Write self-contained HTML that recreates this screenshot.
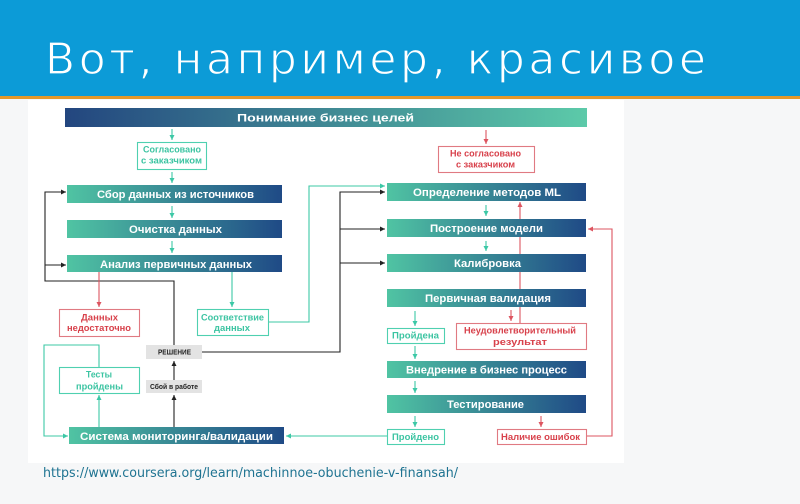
<!DOCTYPE html>
<html><head><meta charset="utf-8"><style>
html,body{margin:0;padding:0;background:#f6f7f8;}
svg{display:block;}
.bt{font-family:"Liberation Sans","DejaVu Sans",sans-serif;font-weight:bold;fill:#fff;font-size:11px;}
.tt{font-family:"Liberation Sans","DejaVu Sans",sans-serif;font-weight:bold;fill:#3cc4a2;font-size:9px;}
.rt{font-family:"Liberation Sans","DejaVu Sans",sans-serif;font-weight:bold;fill:#d8414b;font-size:9px;}
.gt{font-family:"Liberation Sans","DejaVu Sans",sans-serif;font-weight:bold;fill:#222;font-size:7px;}
</style></head><body>
<svg width="800" height="504" viewBox="0 0 800 504" xmlns="http://www.w3.org/2000/svg">
<defs>
<linearGradient id="gTop" x1="0" x2="1" y1="0" y2="0"><stop offset="0" stop-color="#23467f"/><stop offset="1" stop-color="#5ccaa9"/></linearGradient>
<linearGradient id="gBar" x1="0" x2="1" y1="0" y2="0"><stop offset="0" stop-color="#50c4a3"/><stop offset="1" stop-color="#1f4a86"/></linearGradient>
<marker id="ak" viewBox="0 0 10 10" refX="10" refY="5" markerWidth="5" markerHeight="5" markerUnits="userSpaceOnUse" orient="auto"><path d="M0,0 L10,5 L0,10 z" fill="#222"/></marker>
<marker id="at" viewBox="0 0 10 10" refX="10" refY="5" markerWidth="5" markerHeight="5" markerUnits="userSpaceOnUse" orient="auto"><path d="M0,0 L10,5 L0,10 z" fill="#3cc8a6"/></marker>
<marker id="ar" viewBox="0 0 10 10" refX="10" refY="5" markerWidth="5" markerHeight="5" markerUnits="userSpaceOnUse" orient="auto"><path d="M0,0 L10,5 L0,10 z" fill="#dd5560"/></marker>
</defs>

<!-- background -->
<rect x="0" y="0" width="800" height="504" fill="#f6f7f8"/>
<rect x="0" y="0" width="800" height="96" fill="#0c9bd7"/>
<rect x="0" y="96" width="800" height="3" fill="#e4982a"/>
<text x="45" y="74" textLength="661" lengthAdjust="spacing" font-family="DejaVu Sans, Liberation Sans, sans-serif" font-size="44" fill="#ffffff" stroke="#0c9bd7" stroke-width="1.2">Вот, например, красивое</text>

<rect x="28" y="100" width="596" height="363" fill="#ffffff"/>

<!-- connectors (behind) -->
<g fill="none" stroke-width="1.1">
  <line x1="172" y1="129" x2="172" y2="140" stroke="#3cc8a6" marker-end="url(#at)"/>
  <line x1="172" y1="172" x2="172" y2="183" stroke="#3cc8a6" marker-end="url(#at)"/>
  <line x1="172" y1="206" x2="172" y2="218" stroke="#3cc8a6" marker-end="url(#at)"/>
  <line x1="172" y1="241" x2="172" y2="253" stroke="#3cc8a6" marker-end="url(#at)"/>
  <line x1="486" y1="130" x2="486" y2="144" stroke="#dd5560" marker-end="url(#ar)"/>
  <polyline points="174,345 174,281 45,281 45,192 66,192" stroke="#222" marker-end="url(#ak)"/>
  <line x1="45" y1="265" x2="66" y2="265" stroke="#222" marker-end="url(#ak)"/>
  <line x1="99" y1="272" x2="99" y2="307" stroke="#dd5560" marker-end="url(#ar)"/>
  <line x1="232" y1="272" x2="232" y2="307" stroke="#3cc8a6" marker-end="url(#at)"/>
  <polyline points="268,322 309,322 309,186 385,186" stroke="#3cc8a6" marker-end="url(#at)"/>
  <polyline points="202,352 340,352 340,192 385,192" stroke="#222" marker-end="url(#ak)"/>
  <line x1="340" y1="229" x2="385" y2="229" stroke="#222" marker-end="url(#ak)"/>
  <line x1="340" y1="263" x2="385" y2="263" stroke="#222" marker-end="url(#ak)"/>
  <line x1="486" y1="205" x2="486" y2="216" stroke="#3cc8a6" marker-end="url(#at)"/>
  <line x1="486" y1="241" x2="486" y2="251" stroke="#3cc8a6" marker-end="url(#at)"/>
  <line x1="520" y1="323" x2="520" y2="202" stroke="#dd5560" marker-end="url(#ar)"/>
  <line x1="415" y1="311" x2="415" y2="326" stroke="#3cc8a6" marker-end="url(#at)"/>
  <line x1="511" y1="310" x2="511" y2="321" stroke="#dd5560" marker-end="url(#ar)"/>
  <line x1="415" y1="346" x2="415" y2="359" stroke="#3cc8a6" marker-end="url(#at)"/>
  <line x1="415" y1="381" x2="415" y2="393" stroke="#3cc8a6" marker-end="url(#at)"/>
  <line x1="415" y1="416" x2="415" y2="427" stroke="#3cc8a6" marker-end="url(#at)"/>
  <line x1="541" y1="416" x2="541" y2="427" stroke="#dd5560" marker-end="url(#ar)"/>
  <polyline points="586,436 612,436 612,229 588,229" stroke="#dd5560" marker-end="url(#ar)"/>
  <line x1="387" y1="436" x2="286" y2="436" stroke="#3cc8a6" marker-end="url(#at)"/>
  <line x1="99" y1="427" x2="99" y2="395" stroke="#3cc8a6" marker-end="url(#at)"/>
  <polyline points="99,367 99,345 44,345 44,436 68,436" stroke="#3cc8a6" marker-end="url(#at)"/>
  <line x1="174" y1="427" x2="174" y2="395" stroke="#222" marker-end="url(#ak)"/>
  <line x1="174" y1="380" x2="174" y2="361" stroke="#222" marker-end="url(#ak)"/>
</g>

<!-- bars -->
<rect x="65" y="108" width="522" height="19" fill="url(#gTop)"/>
<text class="bt" x="237" y="121.5" font-size="12" textLength="177" lengthAdjust="spacingAndGlyphs">Понимание бизнес целей</text>

<rect x="67" y="185" width="215" height="18" fill="url(#gBar)"/>
<text class="bt" x="97" y="198" textLength="157" lengthAdjust="spacingAndGlyphs">Сбор данных из источников</text>
<rect x="67" y="220" width="215" height="18" fill="url(#gBar)"/>
<text class="bt" x="129" y="233" textLength="93" lengthAdjust="spacingAndGlyphs">Очистка данных</text>
<rect x="67" y="255" width="215" height="17" fill="url(#gBar)"/>
<text class="bt" x="100" y="268" textLength="152" lengthAdjust="spacingAndGlyphs">Анализ первичных данных</text>

<rect x="387" y="183" width="199" height="18" fill="url(#gBar)"/>
<text class="bt" x="413" y="196" textLength="148" lengthAdjust="spacingAndGlyphs">Определение методов ML</text>
<rect x="387" y="219" width="199" height="18" fill="url(#gBar)"/>
<text class="bt" x="430" y="232" textLength="113" lengthAdjust="spacingAndGlyphs">Построение модели</text>
<rect x="387" y="254" width="199" height="18" fill="url(#gBar)"/>
<text class="bt" x="454" y="267" textLength="67" lengthAdjust="spacingAndGlyphs">Калибровка</text>
<rect x="387" y="289" width="199" height="18" fill="url(#gBar)"/>
<text class="bt" x="425" y="302" textLength="126" lengthAdjust="spacingAndGlyphs">Первичная валидация</text>
<rect x="387" y="361" width="199" height="17" fill="url(#gBar)"/>
<text class="bt" x="406" y="373.5" textLength="161" lengthAdjust="spacingAndGlyphs">Внедрение в бизнес процесс</text>
<rect x="387" y="395" width="199" height="18" fill="url(#gBar)"/>
<text class="bt" x="447" y="408" textLength="77" lengthAdjust="spacingAndGlyphs">Тестирование</text>

<rect x="69" y="427" width="215" height="17" fill="url(#gBar)"/>
<text class="bt" x="80" y="440" textLength="193" lengthAdjust="spacingAndGlyphs">Система мониторинга/валидации</text>

<!-- boxes -->
<g stroke-width="1.1">
<rect x="137.5" y="142.5" width="69" height="27" fill="#fff" stroke="#4fd0b0"/>
<rect x="438.5" y="146.5" width="96" height="26" fill="#fff" stroke="#e07a82"/>
<rect x="59.5" y="309.5" width="80" height="27" fill="#fff" stroke="#e07a82"/>
<rect x="197.5" y="309.5" width="71" height="26" fill="#fff" stroke="#4fd0b0"/>
<rect x="59.5" y="367.5" width="80" height="26" fill="#fff" stroke="#4fd0b0"/>
<rect x="387.5" y="328.5" width="57" height="15" fill="#fff" stroke="#4fd0b0"/>
<rect x="456.5" y="323.5" width="130" height="26" fill="#fff" stroke="#e07a82"/>
<rect x="387.5" y="429.5" width="57" height="15" fill="#fff" stroke="#4fd0b0"/>
<rect x="497.5" y="429.5" width="89" height="15" fill="#fff" stroke="#e07a82"/>
</g>
<rect x="146" y="345" width="56" height="14" fill="#e3e3e3"/>
<rect x="146" y="380" width="56" height="13" fill="#e3e3e3"/>

<text class="tt" x="143" y="152.5" font-size="8.5" textLength="58" lengthAdjust="spacingAndGlyphs">Согласовано</text>
<text class="tt" x="141" y="163.5" font-size="8.5" textLength="61" lengthAdjust="spacingAndGlyphs">с заказчиком</text>

<text class="rt" x="450" y="156.5" font-size="8.5" textLength="71" lengthAdjust="spacingAndGlyphs">Не согласовано</text>
<text class="rt" x="456" y="167.5" font-size="8.5" textLength="59" lengthAdjust="spacingAndGlyphs">с заказчиком</text>

<text class="rt" x="81" y="320.5" font-size="9.5" textLength="37" lengthAdjust="spacingAndGlyphs">Данных</text>
<text class="rt" x="67" y="331" font-size="9.5" textLength="64" lengthAdjust="spacingAndGlyphs">недостаточно</text>

<text class="tt" x="201" y="320.5" font-size="9.5" textLength="63" lengthAdjust="spacingAndGlyphs">Соответствие</text>
<text class="tt" x="214" y="331" font-size="9.5" textLength="36" lengthAdjust="spacingAndGlyphs">данных</text>

<text class="tt" x="86" y="377.5" font-size="9.5" textLength="26" lengthAdjust="spacingAndGlyphs">Тесты</text>
<text class="tt" x="76" y="389.5" font-size="9.5" textLength="47" lengthAdjust="spacingAndGlyphs">пройдены</text>

<text class="gt" x="158" y="354.5" textLength="33" lengthAdjust="spacingAndGlyphs">РЕШЕНИЕ</text>
<text class="gt" x="150" y="389" textLength="48" lengthAdjust="spacingAndGlyphs">Сбой в работе</text>

<text class="tt" x="392" y="338.5" font-size="8.5" textLength="47" lengthAdjust="spacingAndGlyphs">Пройдена</text>
<text class="rt" x="464" y="333.5" font-size="8.5" textLength="112" lengthAdjust="spacingAndGlyphs">Неудовлетворительный</text>
<text class="rt" x="493" y="345" font-size="8.5" textLength="54" lengthAdjust="spacingAndGlyphs">результат</text>
<text class="tt" x="392" y="440" font-size="8.5" textLength="47" lengthAdjust="spacingAndGlyphs">Пройдено</text>
<text class="rt" x="501" y="440" font-size="8.5" textLength="79" lengthAdjust="spacingAndGlyphs">Наличие ошибок</text>

<!-- url -->
<text x="43" y="477" font-family="DejaVu Sans, Liberation Sans, sans-serif" font-size="13.5" fill="#1e7391" textLength="415" lengthAdjust="spacingAndGlyphs">https://www.coursera.org/learn/machinnoe-obuchenie-v-finansah/</text>
</svg>
</body></html>
